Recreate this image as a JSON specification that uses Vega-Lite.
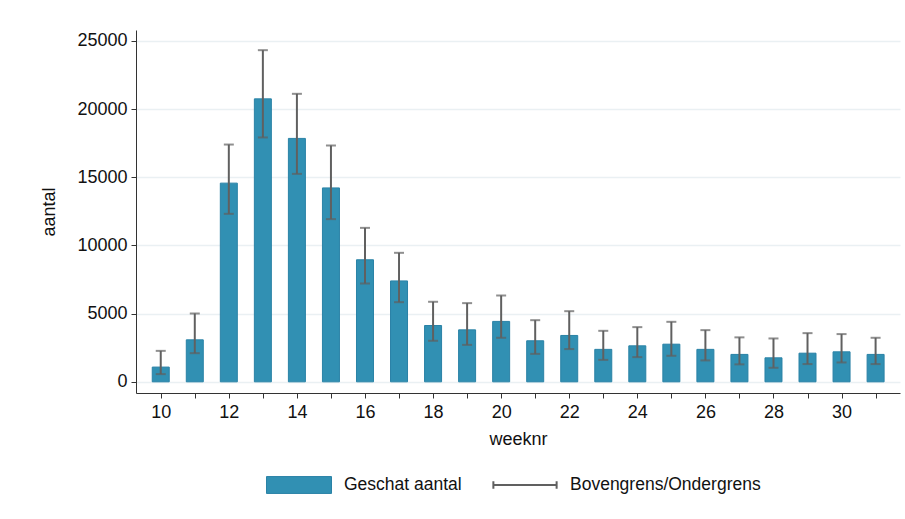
{
  "$schema": "https://vega.github.io/schema/vega-lite/v6.json",
  "autosize": {"type": "none"},
  "width": 764,
  "height": 363,
  "padding": {"left": 136, "top": 30, "right": 5, "bottom": 126},
  "background": "white",
  "config": {
    "view": {"stroke": null},
    "font": "Liberation Sans",
    "axis": {"labelFont": "Liberation Sans", "titleFont": "Liberation Sans", "labelFontSize": 18, "titleFontSize": 18, "labelColor": "#111", "titleColor": "#111", "titleFontWeight": "normal", "domainColor": "#333", "tickColor": "#333"},
    "legend": {"labelFont": "Liberation Sans", "labelFontSize": 17.5, "labelColor": "#111", "padding": 0, "labelLimit": 400}
  },
  "data": {"values": [
    {"week": 10, "aantal": 1080, "lo": 565, "hi": 2270},
    {"week": 11, "aantal": 3080, "lo": 2100, "hi": 5010},
    {"week": 12, "aantal": 14570, "lo": 12320, "hi": 17400},
    {"week": 13, "aantal": 20750, "lo": 17920, "hi": 24320},
    {"week": 14, "aantal": 17850, "lo": 15250, "hi": 21120},
    {"week": 15, "aantal": 14220, "lo": 11930, "hi": 17330},
    {"week": 16, "aantal": 8950, "lo": 7210, "hi": 11290},
    {"week": 17, "aantal": 7400, "lo": 5840, "hi": 9460},
    {"week": 18, "aantal": 4130, "lo": 3010, "hi": 5870},
    {"week": 19, "aantal": 3810, "lo": 2710, "hi": 5770},
    {"week": 20, "aantal": 4430, "lo": 3230, "hi": 6330},
    {"week": 21, "aantal": 3010, "lo": 2050, "hi": 4520},
    {"week": 22, "aantal": 3400, "lo": 2400, "hi": 5180},
    {"week": 23, "aantal": 2380, "lo": 1610, "hi": 3740},
    {"week": 24, "aantal": 2640, "lo": 1810, "hi": 4010},
    {"week": 25, "aantal": 2760, "lo": 1910, "hi": 4400},
    {"week": 26, "aantal": 2380, "lo": 1570, "hi": 3790},
    {"week": 27, "aantal": 2010, "lo": 1280, "hi": 3260},
    {"week": 28, "aantal": 1760, "lo": 1030, "hi": 3180},
    {"week": 29, "aantal": 2100, "lo": 1300, "hi": 3570},
    {"week": 30, "aantal": 2200, "lo": 1420, "hi": 3500},
    {"week": 31, "aantal": 2010, "lo": 1300, "hi": 3230}
  ]},
  "encoding": {
    "x": {
      "field": "week", "type": "quantitative",
      "scale": {"domain": [9.42, 31.57], "nice": false, "zero": false},
      "axis": {"title": "weeknr", "values": [10,11,12,13,14,15,16,17,18,19,20,21,22,23,24,25,26,27,28,29,30,31], "format": "d", "labelExpr": "datum.value % 2 == 0 ? datum.label : ''", "grid": false, "tickSize": 5, "labelPadding": 5, "titlePadding": 9, "labelFlush": false}
    }
  },
  "layer": [
    {
      "mark": {"type": "bar", "width": 17, "stroke": "#2a82a6", "strokeWidth": 1},
      "encoding": {
        "y": {
          "field": "aantal", "type": "quantitative",
          "scale": {"domain": [-820, 25800], "nice": false, "zero": false},
          "axis": {"title": "aantal", "values": [0, 5000, 10000, 15000, 20000, 25000], "format": "d", "grid": true, "gridColor": "#eaf0f3", "gridWidth": 1.5, "tickSize": 5, "labelPadding": 4, "titlePadding": 18}
        },
        "y2": {"datum": 0},
        "fill": {
          "datum": "Geschat aantal",
          "scale": {"range": ["#3190b3"]},
          "legend": {"title": null, "orient": "none", "legendX": 130, "legendY": 422, "symbolType": "M-1,-0.26H1V0.26H-1Z", "symbolSize": 4225, "symbolStrokeColor": "#2a82a6", "symbolStrokeWidth": 1, "symbolOpacity": 1, "labelOffset": 12}
        }
      }
    },
    {
      "mark": {"type": "rule", "strokeWidth": 2},
      "encoding": {
        "y": {"field": "lo", "type": "quantitative"},
        "y2": {"field": "hi"},
        "stroke": {
          "datum": "Bovengrens/Ondergrens",
          "scale": {"range": ["#606060"]},
          "legend": {"title": null, "orient": "none", "legendX": 356, "legendY": 422, "symbolType": "M-1,-0.12V0.12M-1,0H1M1,-0.12V0.12", "symbolSize": 4000, "symbolStrokeWidth": 2, "symbolFillColor": "transparent", "labelOffset": 12}
        }
      }
    },
    {
      "mark": {"type": "tick", "orient": "horizontal", "size": 10, "thickness": 2, "color": "#606060"},
      "encoding": {"y": {"field": "hi", "type": "quantitative"}}
    },
    {
      "mark": {"type": "tick", "orient": "horizontal", "size": 10, "thickness": 2, "color": "#606060"},
      "encoding": {"y": {"field": "lo", "type": "quantitative"}}
    }
  ]
}
